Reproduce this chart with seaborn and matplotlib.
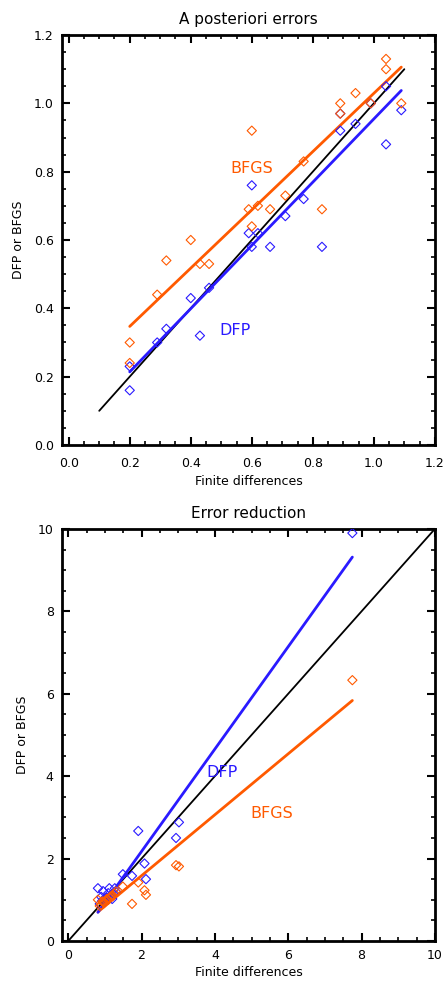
import numpy as np
import pandas as pd
import matplotlib
matplotlib.use("Agg")
import matplotlib.pyplot as plt
from matplotlib.ticker import MultipleLocator
import seaborn as sns

# ---------------- data: top panel (A posteriori errors) ----------------
post_fd = [0.20, 0.20, 0.29, 0.32, 0.40, 0.43, 0.46, 0.59, 0.60, 0.60, 0.62, 0.66,
           0.71, 0.77, 0.83, 0.89, 0.89, 0.94, 0.99, 1.04, 1.04, 1.09]
post_dfp = [0.23, 0.16, 0.30, 0.34, 0.43, 0.32, 0.46, 0.62, 0.76, 0.58, 0.62, 0.58,
            0.67, 0.72, 0.58, 0.97, 0.92, 0.94, 1.00, 1.05, 0.88, 0.98]
post_bfgs = [0.30, 0.24, 0.44, 0.54, 0.60, 0.53, 0.53, 0.69, 0.92, 0.64, 0.70, 0.69,
             0.73, 0.83, 0.69, 1.00, 0.97, 1.03, 1.00, 1.13, 1.10, 1.00]
post_diag = [0.1, 1.1]

# ---------------- data: bottom panel (Error reduction) ----------------
red_fd = [7.75, 3.02, 2.94, 2.08, 2.12, 1.91, 1.74, 1.49, 0.81, 0.95, 1.12, 1.27,
          1.09, 1.22, 0.90, 1.03, 0.86, 0.98, 1.05, 1.15, 1.20, 1.30, 0.93]
red_dfp = [9.90, 2.88, 2.50, 1.88, 1.50, 2.67, 1.58, 1.62, 1.28, 1.21, 1.28, 1.28,
           1.16, 1.16, 1.07, 1.01, 0.90, 0.95, 1.05, 1.10, 1.02, 1.20, 0.98]
red_bfgs = [6.33, 1.81, 1.84, 1.23, 1.12, 1.42, 0.90, 1.32, 1.00, 0.95, 1.05, 1.15,
            1.00, 1.10, 0.88, 0.98, 0.85, 0.92, 1.02, 1.08, 1.10, 1.20, 0.96]
red_diag = [0.0, 10.0]

ORANGE = "#ff5a00"
BLUE = "#2a1aff"

sns.set_theme(style="white")
plt.rcParams['font.family'] = ['DejaVu Sans']

fig = plt.figure(figsize=(4.46, 9.81), dpi=100)
ax1 = fig.add_axes([0.139, 0.5464, 0.836, 0.4179])
ax2 = fig.add_axes([0.139, 0.0408, 0.836, 0.4200])


def panel(ax, fd, dfp, bfgs, diag, title, xlim, ylim, major, minor, fmt,
          lab_bfgs, lab_dfp, xpad):
    sns.lineplot(x=diag, y=diag, ax=ax, color="black", lw=1.3, estimator=None)
    sns.regplot(x=np.array(fd), y=np.array(bfgs), ax=ax, ci=None, scatter=False,
                color=ORANGE, line_kws=dict(lw=2.0))
    sns.regplot(x=np.array(fd), y=np.array(dfp), ax=ax, ci=None, scatter=False,
                color=BLUE, line_kws=dict(lw=2.0))
    sns.scatterplot(x=fd, y=dfp, ax=ax, marker="D", s=22, facecolor="none",
                    edgecolor=BLUE, linewidth=0.8, zorder=3)
    sns.scatterplot(x=fd, y=bfgs, ax=ax, marker="D", s=22, facecolor="none",
                    edgecolor=ORANGE, linewidth=0.8, zorder=3)
    ax.set_xlim(*xlim)
    ax.set_ylim(*ylim)
    ax.xaxis.set_major_locator(MultipleLocator(major))
    ax.xaxis.set_minor_locator(MultipleLocator(minor))
    ax.yaxis.set_major_locator(MultipleLocator(major))
    ax.yaxis.set_minor_locator(MultipleLocator(minor))
    ax.xaxis.set_major_formatter(fmt)
    ax.yaxis.set_major_formatter(fmt)
    ax.tick_params(which="both", direction="in", top=True, right=True,
                   bottom=True, left=True, color="black", labelsize=9,
                   labelcolor="black")
    ax.tick_params(which="major", length=6, width=1.5)
    ax.tick_params(which="minor", length=3, width=1.2)
    ax.tick_params(axis="x", which="major", pad=xpad)
    ax.tick_params(axis="y", which="major", pad=6)
    for s in ax.spines.values():
        s.set_visible(True)
        s.set_color("black")
        s.set_linewidth(2)
    ax.set_title(title, fontsize=11, pad=8, color="black")
    ax.set_xlabel("Finite differences", fontsize=9, labelpad=3, color="black")
    ax.set_ylabel("DFP or BFGS", fontsize=9, labelpad=6, color="black")
    ax.text(lab_bfgs[0], lab_bfgs[1], "BFGS", color=ORANGE, fontsize=11.5,
            ha="center", va="center")
    ax.text(lab_dfp[0], lab_dfp[1], "DFP", color=BLUE, fontsize=11.5,
            ha="center", va="center")
    ax.grid(False)


panel(ax1, post_fd, post_dfp, post_bfgs, post_diag, "A posteriori errors",
      (-0.022, 1.2), (0, 1.2), 0.2, 0.05, "{x:.1f}", (0.60, 0.81), (0.545, 0.334), 9)
panel(ax2, red_fd, red_dfp, red_bfgs, red_diag, "Error reduction",
      (-0.17, 10), (0, 10), 2, 0.5, "{x:.0f}", (5.55, 3.10), (4.19, 4.09), 6)

fig.savefig("out.png", dpi=100)
